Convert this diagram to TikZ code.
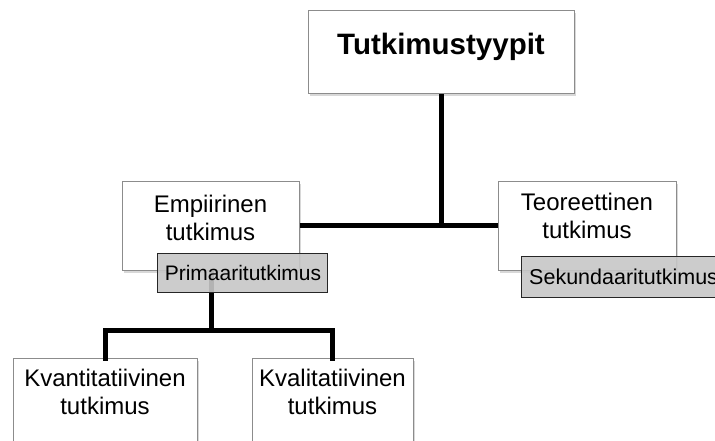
\documentclass[tikz,border=0pt]{standalone}
\usepackage{fontspec}
\setmainfont{Liberation Sans}
\usetikzlibrary{shadows}
\begin{document}
\begin{tikzpicture}[x=1pt,y=-1pt,
  box/.style={draw=black!45, line width=0.8pt, fill=white, inner sep=0pt, anchor=north west,
    drop shadow={shadow xshift=2pt, shadow yshift=-3pt, opacity=0.3}},
  subbox/.style={draw=black!85, line width=1pt, fill=black!22, fill opacity=0.9, text opacity=1,
    inner sep=0pt, anchor=north west},
  lbl/.style={align=center, font=\fontsize{24}{27.5}\selectfont, inner sep=0pt},
  sublbl/.style={font=\fontsize{21}{24}\selectfont, inner sep=0pt},
  conn/.style={line width=5pt, draw=black}
]
\useasboundingbox (0,0) rectangle (715,441);
\clip (0,0) rectangle (715,441);
\fill[white] (0,0) rectangle (715,441);

% main boxes
\node[box, minimum width=266pt, minimum height=83pt] (top) at (308,10) {};
\node[font=\fontsize{29.5}{33}\selectfont\bfseries, inner sep=0pt] (toptxt) at (441,47) {Tutkimustyypit};

\node[box, minimum width=177pt, minimum height=89pt] (emp) at (122,181) {};
\node[lbl] (emptxt) at (210.5,218) {Empiirinen\\tutkimus};

\node[box, minimum width=178pt, minimum height=89pt] (teo) at (498,181) {};
\node[lbl] (teotxt) at (587,216) {Teoreettinen\\tutkimus};

\node[box, minimum width=184pt, minimum height=90pt] (kvan) at (13,358) {};
\node[lbl] (kvantxt) at (105,392) {Kvantitatiivinen\\tutkimus};

\node[box, minimum width=161pt, minimum height=90pt] (kval) at (252,358) {};
\node[lbl] (kvaltxt) at (332.5,392) {Kvalitatiivinen\\tutkimus};

% connectors
\coordinate (j) at (211,330);
\draw[conn] (top.south) -- (top.south |- emp.east);
\draw[conn] (emp.east) -- (teo.west);
\draw[conn] (emp.south -| j) -- (j);
\draw[conn, line cap=rect] (kvan.north) |- (j) -| (kval.north);

% sub boxes
\node[subbox, minimum width=170pt, minimum height=39pt] (prim) at (157,253) {};
\node[sublbl] (primtxt) at (243,273) {Primaaritutkimus};

\node[subbox, minimum width=220pt, minimum height=41pt] (sek) at (521,256) {};
\node[sublbl, anchor=west, font=\fontsize{21.5}{24}\selectfont] (sektxt) at (529,277) {Sekundaaritutkimus};
\end{tikzpicture}
\end{document}
